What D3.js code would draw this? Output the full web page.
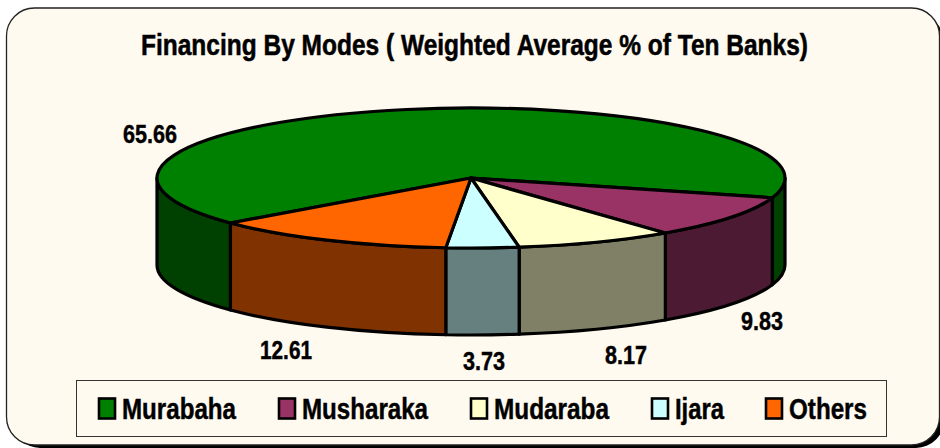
<!DOCTYPE html>
<html><head><meta charset="utf-8">
<script src="https://cdn.jsdelivr.net/npm/d3@7/dist/d3.min.js"></script>
<style>html,body{margin:0;padding:0;background:#fff}svg{display:block}text{font-family:"Liberation Sans",Arial,sans-serif;font-weight:700;fill:#000;stroke:#000;stroke-width:.45px}</style>
</head><body><svg id="c" width="940" height="448"></svg>
<script>
const categories=["Murabaha","Musharaka","Mudaraba","Ijara","Others"];
const values=[65.66,9.83,8.17,3.73,12.61];
const topColors=["#008000","#993366","#FFFFCC","#CCFFFF","#FF6600"];
const wallColors=["#004000","#4D1A33","#808066","#668080","#803300"];
const valueLabels=["65.66","9.83","8.17","3.73","12.61"];
const labelX=[123,741,605,463,260];
const labelBase=[143,330,364,370,359];
const labelWidths=[54,42,42,42,52];
const legendX=[99,279,471,652,766];
const legendTextX=[122,302,494,675,789];
const legendTextW=[114,126,115,49,78];
const title="Financing By Modes ( Weighted Average % of Ten Banks)";

const svg=d3.select("#c");
const cx=471,cy=178,rx=314,ry=70,depth=87;
const pt=(a,dy=0)=>[cx+rx*Math.sin(a),cy-ry*Math.cos(a)+dy];
const arcTo=(a0,a1,dy,ccw)=>{const p=pt(a1,dy);const large=Math.abs(a1-a0)>Math.PI?1:0;
  return `A${rx},${ry} 0 ${large} ${ccw?0:1} ${p[0]},${p[1]}`;};

// card
svg.append("rect").attr("x",12).attr("y",14).attr("width",932).attr("height",434).attr("rx",28).attr("fill","#000");
svg.append("rect").attr("x",6.5).attr("y",8).attr("width",933).attr("height",437).attr("rx",28)
  .attr("fill","#FFFAF0").attr("stroke","#222").attr("stroke-width",1.3);

svg.append("text").text(title).attr("font-size",24.5)
  .attr("transform","translate(141,55) scale(1,1.22)")
  .attr("textLength",667).attr("lengthAdjust","spacingAndGlyphs");

const start=230*Math.PI/180;
const pie=d3.pie().sort(null).startAngle(start).endAngle(start+2*Math.PI);
const arcs=pie(values);
const g=svg.append("g").attr("stroke","#000").attr("stroke-width",3.2).attr("stroke-linejoin","round");

// visible outer walls: the front half of the disc (90 to 270 degrees, plus one turn)
const fL=Math.PI/2,fR=3*Math.PI/2;
const walls=[];
arcs.forEach((d,i)=>{
  [0,2*Math.PI].forEach(t=>{
    const a0=Math.max(d.startAngle,fL+t),a1=Math.min(d.endAngle,fR+t);
    if(a1>a0) walls.push({a0,a1,i});
  });
});
g.selectAll("path.wall").data(walls).join("path").attr("class","wall")
  .attr("fill",d=>wallColors[d.i])
  .attr("d",d=>{
    const [x0,y0]=pt(d.a0),p1=pt(d.a1,depth);
    return `M${x0},${y0}${arcTo(d.a0,d.a1,0,false)}L${p1[0]},${p1[1]}${arcTo(d.a1,d.a0,depth,true)}Z`;
  });
g.selectAll("path.top").data(arcs).join("path").attr("class","top")
  .attr("fill",(d,i)=>topColors[i])
  .attr("d",d=>{
    const [x0,y0]=pt(d.startAngle);
    return `M${cx},${cy}L${x0},${y0}${arcTo(d.startAngle,d.endAngle,0,false)}Z`;
  });

// value labels
svg.selectAll("text.v").data(valueLabels).join("text").attr("class","v").text(d=>d)
  .attr("x",(d,i)=>labelX[i]).attr("y",(d,i)=>labelBase[i])
  .attr("font-size",26).attr("textLength",(d,i)=>labelWidths[i]).attr("lengthAdjust","spacingAndGlyphs");

// legend
svg.append("rect").attr("x",76.5).attr("y",380.5).attr("width",810).attr("height",56)
  .attr("fill","#FFFAF0").attr("stroke","#333").attr("stroke-width",1);
const leg=svg.selectAll("g.l").data(categories).join("g").attr("class","l");
leg.append("rect").attr("x",(d,i)=>legendX[i]).attr("y",398.5).attr("width",16).attr("height",20)
  .attr("fill",(d,i)=>topColors[i]).attr("stroke","#000").attr("stroke-width",2.6);
leg.append("text").text(d=>d).attr("x",(d,i)=>legendTextX[i]).attr("y",419).attr("font-size",29)
  .attr("textLength",(d,i)=>legendTextW[i]).attr("lengthAdjust","spacingAndGlyphs");
</script></body></html>
